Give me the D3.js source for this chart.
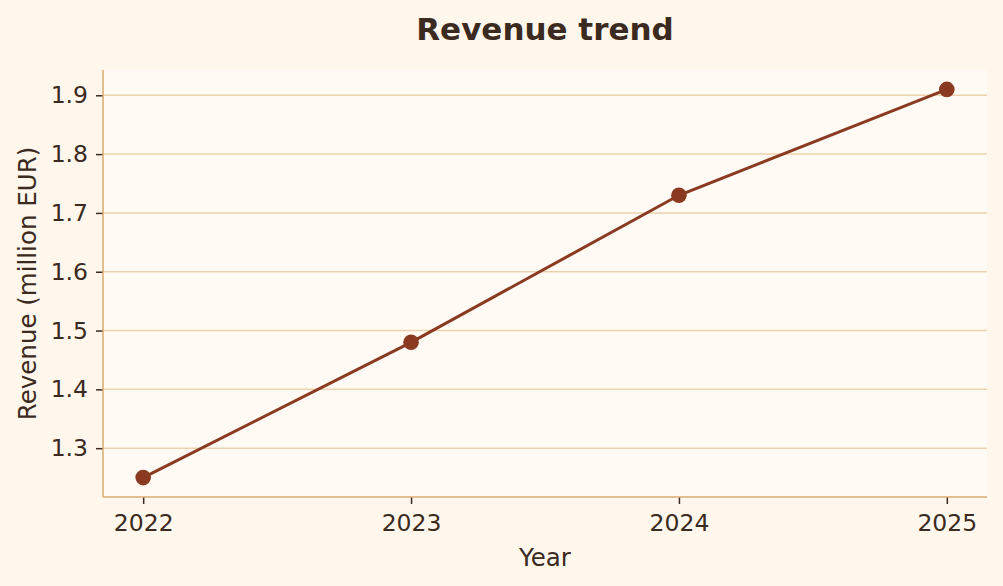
<!DOCTYPE html>
<html><head><meta charset="utf-8">
<script src="https://cdn.jsdelivr.net/npm/d3@7"></script>
<style>body{margin:0;background:#fff7ec;}svg{display:block;font-family:"DejaVu Sans",sans-serif;}</style>
</head><body>
<svg id="c" width="1003" height="586"></svg>
<script>
const years = [2022, 2023, 2024, 2025];
const revenue = [1.25, 1.48, 1.73, 1.91];
const yTicks = [1.3, 1.4, 1.5, 1.6, 1.7, 1.8, 1.9];

const W = 1003, H = 586;
const m = {left: 103, right: 16, top: 70, bottom: 89};
const svg = d3.select("#c");
svg.append("rect").attr("width", W).attr("height", H).attr("fill", "#fff7ec");

const x = d3.scaleLinear().domain([2022 - 0.15, 2025 + 0.15]).range([m.left, W - m.right]);
const y = d3.scaleLinear().domain([1.217, 1.943]).range([H - m.bottom, m.top]);

svg.append("rect").attr("x", m.left).attr("y", m.top)
  .attr("width", W - m.left - m.right).attr("height", H - m.top - m.bottom)
  .attr("fill", "#fffaf3");

// grid
svg.append("g").selectAll("line").data(yTicks).join("line")
  .attr("x1", m.left).attr("x2", W - m.right)
  .attr("y1", d => y(d)).attr("y2", d => y(d))
  .attr("stroke", "#edd3ad").attr("stroke-width", 1.5);

const textColor = "#3b2a20";
const yAxis = svg.append("g").attr("transform", `translate(${m.left},0)`)
  .call(d3.axisLeft(y).tickValues(yTicks).tickFormat(d3.format(".1f")).tickSize(7).tickPadding(8));
const xAxis = svg.append("g").attr("transform", `translate(0,${H - m.bottom})`)
  .call(d3.axisBottom(x).tickValues(years).tickFormat(d3.format("d")).tickSize(7).tickPadding(10));
[yAxis, xAxis].forEach(g => {
  g.attr("font-size", 23.5).attr("font-family", "DejaVu Sans");
  g.select(".domain").remove();
  g.selectAll(".tick line").attr("stroke", textColor).attr("stroke-width", 1.5);
  g.selectAll(".tick text").attr("fill", textColor).attr("font-size", 23.5)
    .attr("font-family", "DejaVu Sans");
});

// spines
svg.append("line").attr("x1", m.left).attr("x2", m.left).attr("y1", m.top).attr("y2", H - m.bottom)
  .attr("stroke", "#d9ab72").attr("stroke-width", 1.5);
svg.append("line").attr("x1", m.left).attr("x2", W - m.right).attr("y1", H - m.bottom).attr("y2", H - m.bottom)
  .attr("stroke", "#d9ab72").attr("stroke-width", 1.5);

const data = years.map((d, i) => ({x: d, y: revenue[i]}));
svg.append("path").datum(data)
  .attr("d", d3.line().x(d => x(d.x)).y(d => y(d.y)))
  .attr("fill", "none").attr("stroke", "#8b3a22").attr("stroke-width", 3);
svg.append("g").selectAll("circle").data(data).join("circle")
  .attr("cx", d => x(d.x)).attr("cy", d => y(d.y)).attr("r", 7.8)
  .attr("fill", "#8b3a22");

svg.append("text").attr("x", 545).attr("y", 40).attr("text-anchor", "middle")
  .attr("font-size", 31).attr("font-weight", "bold").attr("fill", textColor).text("Revenue trend");
svg.append("text").attr("x", (m.left + W - m.right) / 2).attr("y", 566).attr("text-anchor", "middle")
  .attr("font-size", 24.5).attr("fill", textColor).text("Year");
svg.append("text").attr("transform", `translate(36,${(m.top + H - m.bottom) / 2}) rotate(-90)`)
  .attr("text-anchor", "middle").attr("font-size", 24.5).attr("fill", textColor).text("Revenue (million EUR)");
</script>
</body></html>
